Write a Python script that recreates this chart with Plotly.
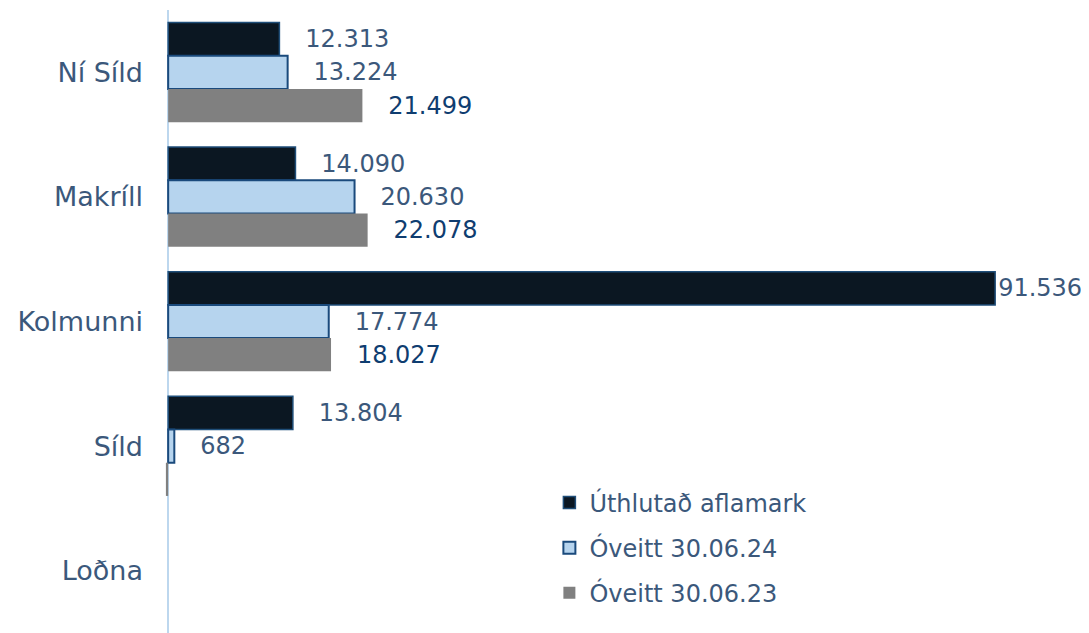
import plotly.graph_objects as go

categories = ["Ní Síld", "Makríll", "Kolmunni", "Síld", "Loðna"]
series_names = ["Úthlutað aflamark", "Óveitt 30.06.24", "Óveitt 30.06.23"]
uthlutad = [12313, 14090, 91536, 13804, 0]
oveitt_24 = [13224, 20630, 17774, 682, 0]
oveitt_23 = [21499, 22078, 18027, -250, 0]

fills = ["#0b1722", "#b6d4ee", "#808080"]
edges = ["#1f4e79", "#1a4a7c", "#808080"]
edge_w = [1.5, 2, 0]
label_colors = ["#3b587b", "#3b587b", "#0f3d70"]

XMIN, XMAX = -350, 101923
NBSP = "\u00a0"


def fmt(v):
    if v <= 0:
        return ""
    s = f"{v:,}".replace(",", ".")
    pad = "" if v > 0.85 * XMAX else NBSP * 3
    return pad + s


fig = go.Figure()
for name, vals, fc, ec, ew, lc, rank in zip(
    series_names, [uthlutad, oveitt_24, oveitt_23], fills, edges, edge_w, label_colors, [1, 2, 3]
):
    fig.add_trace(go.Bar(
        y=categories, x=vals, orientation="h", name=name,
        marker=dict(color=fc, line=dict(color=ec, width=[ew if v != 0 else 0 for v in vals])),
        text=[fmt(v) for v in vals], textposition="outside",
        textfont=dict(size=24, color=lc, family="DejaVu Sans"),
        constraintext="none", cliponaxis=False,
        legendgroup=name, legendrank=rank,
    ))

fig.update_layout(
    width=1081, height=625,
    margin=dict(l=157, r=0, t=2, b=0),
    paper_bgcolor="white", plot_bgcolor="white",
    barmode="group", bargap=0.2, bargroupgap=0,
    font=dict(family="DejaVu Sans", color="#3b587b", size=24),
    showlegend=True,
    legend=dict(
        x=0.416, y=0.245, xanchor="left", yanchor="top",
        font=dict(size=24, color="#3b587b"),
        tracegroupgap=11, bgcolor="rgba(0,0,0,0)",
    ),
)
fig.update_xaxes(
    range=[XMIN, XMAX], showgrid=False, showticklabels=False, ticks="",
    zeroline=True, zerolinecolor="#bdd7ee", zerolinewidth=2, showline=False,
)
fig.update_yaxes(
    autorange="reversed", showgrid=False, ticks="", showline=False,
    tickfont=dict(size=27, color="#3b587b"), ticklabelstandoff=21, automargin=False,
)

fig.write_html("out.html")
